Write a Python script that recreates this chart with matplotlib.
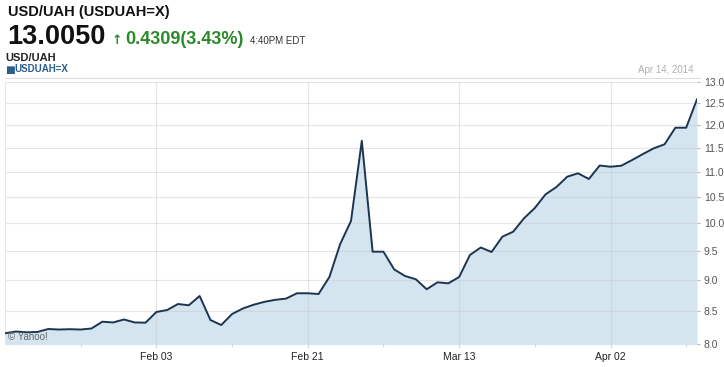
import numpy as np
import pandas as pd
import matplotlib
matplotlib.use('Agg')
import matplotlib.pyplot as plt
from matplotlib.lines import Line2D

# daily close, USD/UAH, 3 months to Apr 14 2014
dates = pd.bdate_range('2014-01-14', '2014-04-14')
close = [8.160, 8.187, 8.175, 8.180, 8.225, 8.217, 8.222, 8.217, 8.233, 8.337,
         8.325, 8.371, 8.325, 8.322, 8.488, 8.519, 8.614, 8.594, 8.743, 8.363,
         8.286, 8.456, 8.543, 8.603, 8.649, 8.681, 8.701, 8.787, 8.787, 8.775,
         9.055, 9.625, 10.044, 11.65, 9.489, 9.489, 9.182, 9.072, 9.017, 8.852,
         8.967, 8.950, 9.055, 9.432, 9.563, 9.484, 9.756, 9.847, 10.094, 10.288,
         10.552, 10.695, 10.901, 10.970, 10.855, 11.129, 11.104, 11.125, 11.243, 11.368,
         11.489, 11.574, 11.935, 11.935, 12.579]
tick_dates = ['2014-02-03', '2014-02-21', '2014-03-13', '2014-04-02']
tick_labels = ['Feb 03', 'Feb 21', 'Mar 13', 'Apr 02']
y_ticks = [8.0, 8.5, 9.0, 9.5, 10.0, 10.5, 11.0, 11.5, 12.0, 12.5, 13.0]

plt.rcParams['font.family'] = ['Liberation Sans', 'DejaVu Sans']

W, H = 724, 367
fig = plt.figure(figsize=(W / 100, H / 100), dpi=100)
fig.patch.set_facecolor('white')

# plot area in pixels
x0, x1, ytop, ybot = 5, 697, 81.5, 344
ax = fig.add_axes([x0 / W, (H - ybot) / H, (x1 - x0) / W, (ybot - ytop) / H])

xs = np.arange(len(close))
ax.fill_between(xs, close, 7.0, color='#d5e5f0', lw=0, zorder=1)
ax.plot(xs, close, color='#1b3450', lw=1.4, zorder=3)

ax.set_yscale('log')
ax.set_ylim(8.0, 13.0)
ax.set_xlim(0, len(close) - 1)
ax.yaxis.set_major_locator(matplotlib.ticker.FixedLocator(y_ticks))
ax.yaxis.set_minor_locator(matplotlib.ticker.NullLocator())
ax.set_yticks(y_ticks)
ax.set_yticklabels(['%.1f' % v for v in y_ticks])
ax.yaxis.tick_right()
ax.tick_params(axis='y', which='both', length=2, width=0.8, color='#bbbbbb',
               labelsize=7.5, labelcolor='#555555', pad=3)

pos = [list(dates).index(pd.Timestamp(d)) for d in tick_dates]
ax.set_xticks(pos)
ax.set_xticklabels(tick_labels)
ax.set_xticks([p - 7 for p in pos] + [pos[-1] + 7], minor=True)
ax.tick_params(axis='x', which='major', length=3, width=0.8, color='#d8d8d8',
               labelsize=7.5, labelcolor='#222222', pad=3)
ax.tick_params(axis='x', which='minor', length=2, width=0.8, color='#d8d8d8')

ax.grid(True, which='major', color='#c8c8c8', lw=0.8, alpha=0.45)
for g in ax.get_xgridlines() + ax.get_ygridlines():
    g.set_zorder(2)
for s in ['top', 'right', 'bottom']:
    ax.spines[s].set_visible(False)
ax.spines['left'].set_color('#e6e6e6')

ax.text(0.005, 0.008, '\u00a9 Yahoo!', transform=ax.transAxes, fontsize=7,
        color='#666666', ha='left', va='bottom', zorder=4)

# header
def px(x, y):
    return x / W, 1 - y / H

fig.add_artist(Line2D([5 / W, 700 / W], [1 - 78 / H] * 2, color='#dddddd', lw=0.8))
fig.text(*px(8, 16), 'USD/UAH (USDUAH=X)', fontsize=10.5, fontweight='bold',
         color='#111111', va='baseline')
fig.text(*px(7, 44), '13.0050', fontsize=19.5, fontweight='bold',
         color='#111111', va='baseline')
fig.text(*px(112, 44), '\u2191', fontsize=9, fontweight='bold',
         color='#2a8a2a', va='baseline', family=['DejaVu Sans'])
fig.text(*px(125, 44), '0.4309(3.43%)', fontsize=13, fontweight='bold',
         color='#2a8a2a', va='baseline')
fig.text(*px(250, 44), '4:40PM EDT', fontsize=7, color='#333333', va='baseline')
fig.text(*px(5, 61), 'USD/UAH', fontsize=8, fontweight='bold',
         color='#222222', va='baseline')
fig.text(*px(5, 72.5), '\u25a0', fontsize=7.5, color='#2b5d8a', va='baseline',
         family=['DejaVu Sans'])
fig.text(*px(14, 72), 'USDUAH=X', fontsize=7, fontweight='bold',
         color='#2b5d8a', va='baseline')
fig.text(*px(693, 73), 'Apr 14, 2014', fontsize=7, color='#b0b0b0',
         ha='right', va='baseline')

fig.savefig('out.png', dpi=100)
